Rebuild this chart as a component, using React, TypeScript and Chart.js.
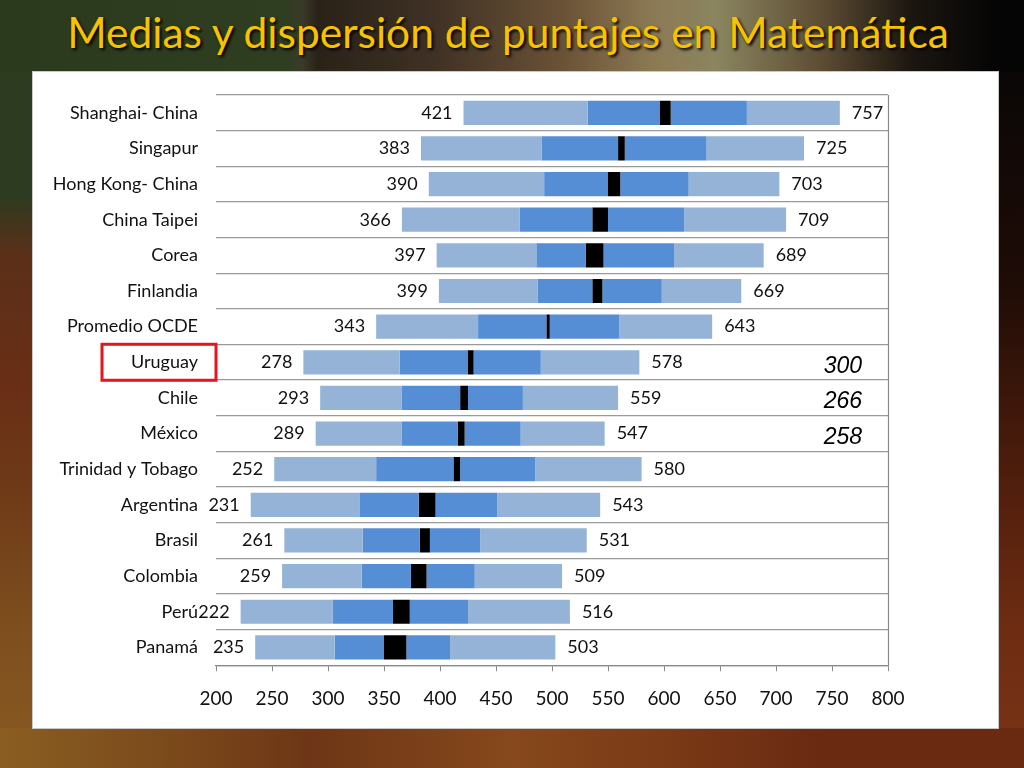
import React, { useEffect, useRef } from "react";
import { Chart, registerables } from "chart.js";

Chart.register(...registerables);

const categories = [
  "Shanghai- China",
  "Singapur",
  "Hong Kong- China",
  "China Taipei",
  "Corea",
  "Finlandia",
  "Promedio OCDE",
  "Uruguay",
  "Chile",
  "México",
  "Trinidad y Tobago",
  "Argentina",
  "Brasil",
  "Colombia",
  "Perú",
  "Panamá",
];
const p5 = [421, 383, 390, 366, 397, 399, 343, 278, 293, 289, 252, 231, 261, 259, 222, 235];
const p25 = [532, 491, 493, 471, 486, 487, 434, 364, 366, 366, 343, 328, 331, 330, 304, 306];
const meanLow = [596, 559, 550, 536, 530, 536, 495, 425, 418, 416, 412, 381, 382, 374, 358, 350];
const meanHigh = [606, 565, 561, 550, 546, 545, 498, 430, 425, 422, 418, 396, 391, 388, 373, 370];
const p75 = [674, 638, 622, 618, 609, 598, 560, 490, 474, 472, 485, 451, 436, 431, 425, 409];
const p95 = [757, 725, 703, 709, 689, 669, 643, 578, 559, 547, 580, 543, 531, 509, 516, 503];

const xTicks = [200, 250, 300, 350, 400, 450, 500, 550, 600, 650, 700, 750, 800];

const noteCategories = ["Uruguay", "Chile", "México"];
const noteValues = ["300", "266", "258"];
const highlightCategory = "Uruguay";

const FONT = "Lato, 'Open Sans', sans-serif";

const LIGHT = "#95b3d7";
const MID = "#558ed5";
const BLACK = "#000000";

const pairs = (a: number[], b: number[]) => a.map((v, i) => [v, b[i]]);

const annotationPlugin = {
  id: "annotations",
  afterDatasetsDraw(chart: any) {
    const { ctx, chartArea, scales } = chart;
    const x = scales.x;
    const y = scales.y;
    ctx.save();
    // value labels
    ctx.font = `18px ${FONT}`;
    ctx.fillStyle = "#111";
    ctx.textBaseline = "middle";
    categories.forEach((c, i) => {
      const yy = y.getPixelForValue(i);
      ctx.textAlign = "right";
      ctx.fillText(String(p5[i]), x.getPixelForValue(p5[i]) - 11, yy);
      ctx.textAlign = "left";
      ctx.fillText(String(p95[i]), x.getPixelForValue(p95[i]) + 12, yy);
    });
    // right border line
    ctx.strokeStyle = "#8a8a8a";
    ctx.lineWidth = 1.2;
    ctx.beginPath();
    ctx.moveTo(chartArea.right + 0.5, chartArea.top);
    ctx.lineTo(chartArea.right + 0.5, chartArea.bottom);
    ctx.stroke();
    // italic notes
    ctx.font = `italic 23px 'Liberation Sans', Arial, sans-serif`;
    ctx.fillStyle = "#000";
    ctx.textAlign = "right";
    noteCategories.forEach((c, k) => {
      const idx = categories.indexOf(c);
      const yy = y.getPixelForValue(idx) + 4;
      ctx.fillText(noteValues[k], chartArea.right - 26, yy);
    });
    // red highlight box
    const hi = categories.indexOf(highlightCategory);
    const hy = y.getPixelForValue(hi);
    ctx.strokeStyle = "#e8141c";
    ctx.lineWidth = 3;
    ctx.strokeRect(chartArea.left - 114, hy - 18, 114, 36);
    ctx.restore();
  },
};

export default function App() {
  const canvasRef = useRef<HTMLCanvasElement | null>(null);

  useEffect(() => {
    if (!canvasRef.current) return;
    const chart = new Chart(canvasRef.current, {
      type: "bar",
      data: {
        labels: categories,
        datasets: [
          { label: "p5-p25", data: pairs(p5, p25) as any, backgroundColor: LIGHT },
          { label: "p25-media", data: pairs(p25, meanLow) as any, backgroundColor: MID },
          { label: "media", data: pairs(meanLow, meanHigh) as any, backgroundColor: BLACK },
          { label: "media-p75", data: pairs(meanHigh, p75) as any, backgroundColor: MID },
          { label: "p75-p95", data: pairs(p75, p95) as any, backgroundColor: LIGHT },
        ].map((d) => ({ ...d, grouped: false, barPercentage: 0.68, categoryPercentage: 1, borderWidth: 0 })),
      },
      options: {
        indexAxis: "y",
        animation: false,
        responsive: false,
        maintainAspectRatio: false,
        layout: { padding: { left: 0, right: 110, top: 23, bottom: 2 } },
        plugins: { legend: { display: false }, tooltip: { enabled: false } },
        scales: {
          x: {
            type: "linear",
            min: 200,
            max: 800,
            afterBuildTicks: (scale: any) => {
              scale.ticks = xTicks.map((v) => ({ value: v }));
            },
            ticks: { font: { family: FONT, size: 19 }, color: "#111", padding: 16 },
            grid: { drawOnChartArea: false, drawTicks: true, tickLength: 6, color: "#8a8a8a" },
            border: { display: true, color: "#8a8a8a", width: 1.2 },
          },
          y: {
            type: "category",
            afterFit: (scale: any) => {
              scale.width = 183;
              scale.paddingTop = 0;
              scale.paddingBottom = 0;
            },
            ticks: { font: { family: FONT, size: 18 }, color: "#111", padding: 18 },
            grid: { offset: true, drawTicks: false, color: "#9a9a9a", lineWidth: 1.3 },
            border: { display: false },
          },
        },
      },
      plugins: [annotationPlugin],
    });
    return () => chart.destroy();
  }, []);

  return (
    <div
      style={{
        position: "absolute",
        left: 0,
        top: 0,
        width: 1024,
        height: 768,
        overflow: "hidden",
        background: "#3a2414",
      }}
    >
      {/* top band */}
      <div
        style={{
          position: "absolute",
          left: 0,
          top: 0,
          width: 1024,
          height: 80,
          background:
            "linear-gradient(90deg, #2b3a1c 0%, #2f3d20 28%, #3a3a2a 29.5%, #2a2218 31%, #3e3024 42%, #6a5236 55%, #8c7a55 64%, #8a8560 70%, #5e4e34 80%, #1c1610 89%, #050505 97%)",
        }}
      />
      {/* left strip */}
      <div
        style={{
          position: "absolute",
          left: 0,
          top: 72,
          width: 34,
          height: 696,
          background:
            "linear-gradient(180deg, #2d3b20 0%, #2d3b20 18%, #5a3018 26%, #6a2e16 45%, #6e3a18 60%, #7e4e1e 80%, #8a5a22 100%)",
        }}
      />
      {/* right strip */}
      <div
        style={{
          position: "absolute",
          left: 997,
          top: 72,
          width: 27,
          height: 696,
          background:
            "linear-gradient(180deg, #0a0706 0%, #1e0c06 30%, #4a1c0c 55%, #6e2c12 80%, #7a3416 100%)",
        }}
      />
      {/* bottom strip */}
      <div
        style={{
          position: "absolute",
          left: 0,
          top: 728,
          width: 1024,
          height: 40,
          background:
            "linear-gradient(90deg, #8a5e22 0%, #7c4c1c 15%, #6e3616 30%, #86481c 50%, #7a3a16 65%, #6a2a12 80%, #6a2a12 100%)",
        }}
      />
      {/* title */}
      <div
        style={{
          position: "absolute",
          left: 0,
          top: 6,
          width: 1016,
          textAlign: "center",
          fontFamily: FONT,
          fontSize: 42.5,
          lineHeight: "52px",
          color: "#f7c200",
          textShadow: "2px 2px 3px #000",
          whiteSpace: "nowrap",
        }}
      >
        Medias y dispersión de puntajes en Matemática
      </div>
      {/* white panel */}
      <div
        style={{
          position: "absolute",
          left: 33,
          top: 72,
          width: 965,
          height: 656,
          background: "#ffffff",
          boxShadow: "0 0 0 1px #c8c8c8",
        }}
      >
        <canvas ref={canvasRef} width={965} height={656} style={{ display: "block" }} />
      </div>
    </div>
  );
}
